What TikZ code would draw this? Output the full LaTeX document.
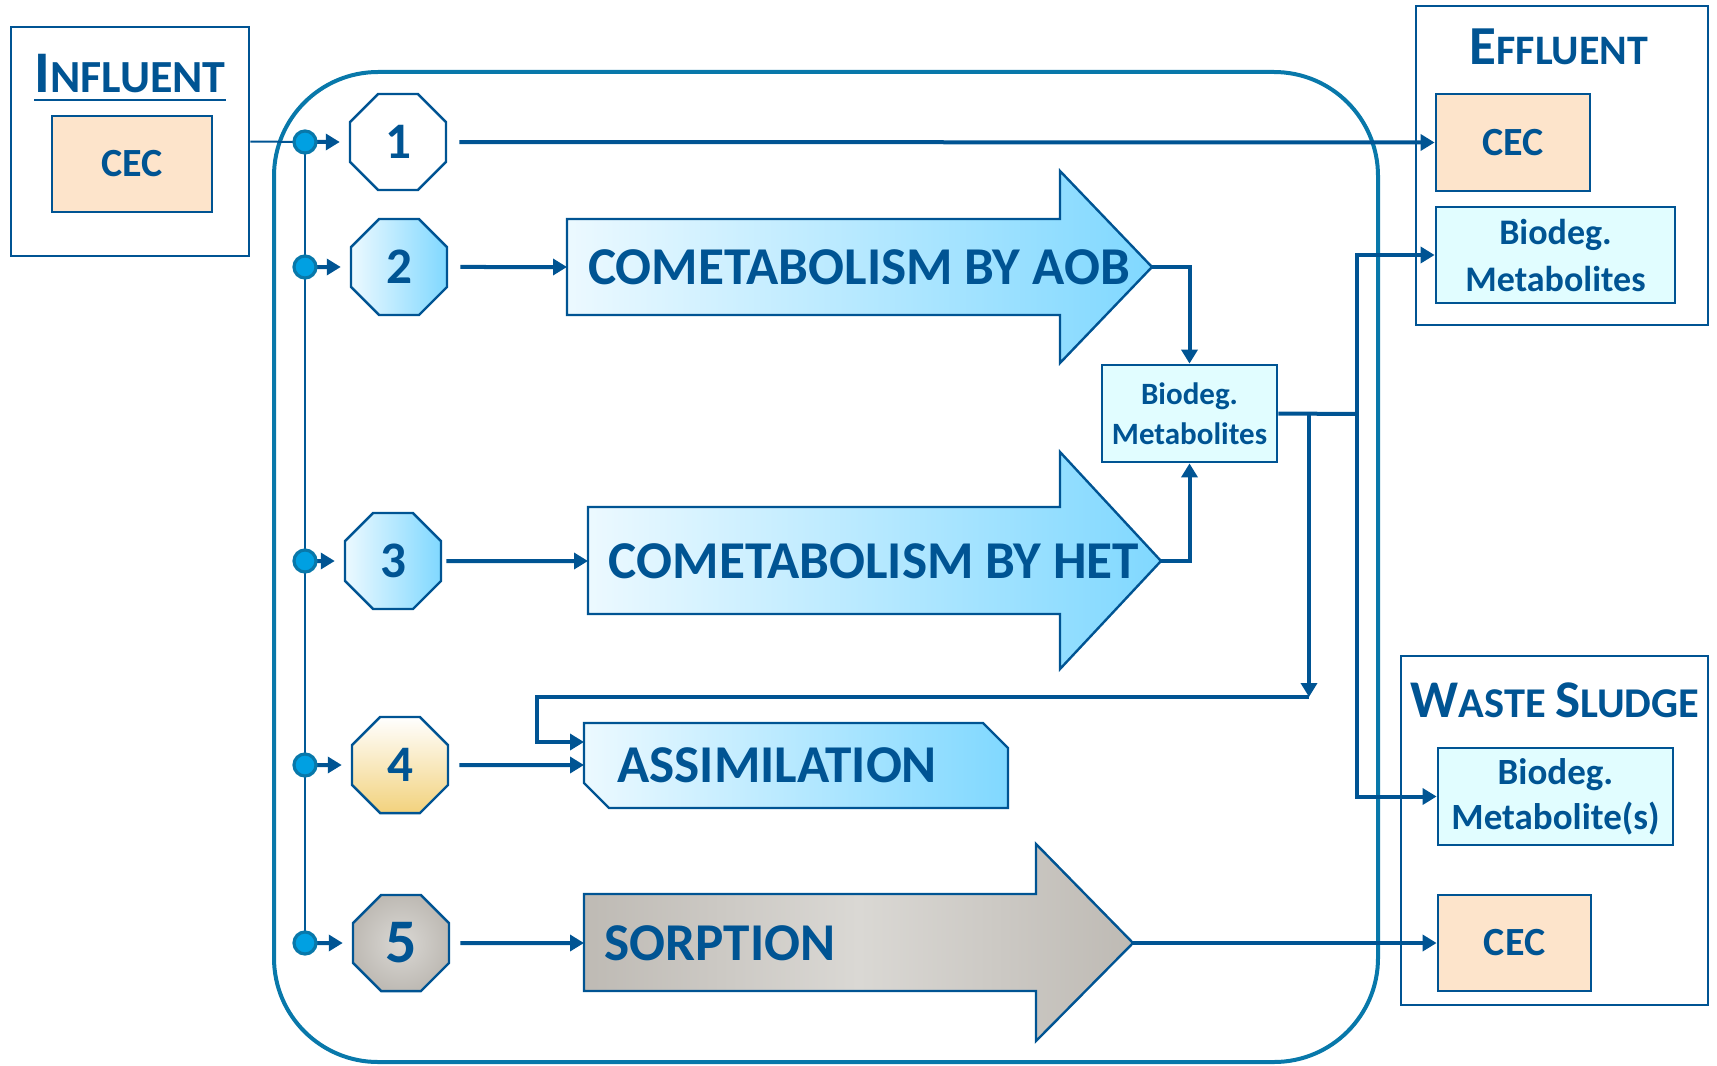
\documentclass[tikz,border=0pt]{standalone}
\usepackage{fontspec}
\setmainfont{Carlito}
\usetikzlibrary{shapes.geometric,arrows.meta,fit}
\definecolor{dkb}{RGB}{0,84,147}
\definecolor{framec}{RGB}{8,120,170}
\definecolor{peach}{RGB}{253,228,203}
\definecolor{lcyan}{RGB}{225,253,255}
\definecolor{sky}{RGB}{128,216,255}
\definecolor{skyl}{RGB}{236,249,255}
\definecolor{gold}{RGB}{242,210,125}
\definecolor{grayd}{RGB}{190,186,180}
\definecolor{grayl}{RGB}{218,216,212}
\definecolor{dotf}{RGB}{0,160,226}
\begin{document}
\begin{tikzpicture}[x=0.5pt,y=-0.5pt,
  ctn/.style={draw=dkb, line width=1.3pt, inner sep=0pt},
  cec/.style={draw=dkb, line width=1.4pt, fill=peach, inner sep=0pt, text=dkb, font=\bfseries\fontsize{20}{22}\selectfont},
  bio/.style={draw=dkb, line width=1.4pt, fill=lcyan, inner sep=0pt, text=dkb, align=center},
  ttl/.style={inner sep=0pt, text=dkb, font=\bfseries},
  oct/.style={regular polygon, regular polygon sides=8, minimum size=52pt, inner sep=0pt, draw=dkb, line width=1.2pt, text=dkb, font=\bfseries\fontsize{25.6}{28}\selectfont},
  big/.style={inner sep=0pt, text=dkb, font=\bfseries\fontsize{26.6}{30}\selectfont},
  proc/.style={draw=dkb, line width=1.2pt},
  conn/.style={draw=dkb, line width=2pt},
  arr/.style={conn, -{Triangle[length=7pt,width=8pt]}},
  bus/.style={draw=dkb!85!framec, line width=1.2pt},
  dot/.style={circle, fill=dotf, draw=framec, line width=1.6pt, minimum size=11pt, inner sep=0pt}
]
\useasboundingbox (0,0) rectangle (1717,1065);
% big frame
\draw[framec, line width=2pt, rounded corners=52pt] (274,72) rectangle (1378,1062);

% influent
\node[ctn, fit={(11,27) (249,256)}] (inf) {};
\node[ttl, anchor=base] (inft) at (130,93) {{\fontsize{29.5}{30}\selectfont I}{\fontsize{23}{24}\selectfont NFLUENT}};
\draw[dkb, line width=1pt] ([yshift=-3.5pt]inft.base west) -- ([yshift=-3.5pt]inft.base east);
\node[cec, minimum width=80pt, minimum height=48pt] (icec) at (132,164) {CEC};

% effluent
\node[ctn, fit={(1416,6) (1708,325)}] (eff) {};
\node[ttl, anchor=base] (efft) at (1559,65) {{\fontsize{27.5}{28}\selectfont E}{\fontsize{21}{22}\selectfont FFLUENT}};
\node[cec, minimum width=77pt, minimum height=48.5pt] (ecec) at (1513,142.5) {CEC};
\node[bio, minimum width=119.5pt, minimum height=48pt, font=\bfseries\fontsize{18}{23.5}\selectfont] (ebio) at (1555.5,255) {Biodeg.\\Metabolites};

% waste sludge
\node[ctn, fit={(1401,656) (1708,1005)}] (ws) {};
\node[ttl, anchor=base] (wst) at (1555,717) {{\fontsize{26.5}{28}\selectfont W}{\fontsize{21.2}{24}\selectfont ASTE }{\fontsize{26.5}{28}\selectfont S}{\fontsize{21.2}{24}\selectfont LUDGE}};
\node[bio, minimum width=117.5pt, minimum height=48.5pt, font=\bfseries\fontsize{18.5}{22.5}\selectfont] (wbio) at (1555.5,796.5) {Biodeg.\\Metabolite(s)};
\node[cec, minimum width=76.5pt, minimum height=48pt] (wcec) at (1514.5,943) {CEC};

% middle metabolites
\node[bio, minimum width=87.5pt, minimum height=48.5pt, font=\bfseries\fontsize{15.5}{20}\selectfont] (mb) at (1189.5,413.5) {Biodeg.\\Metabolites};

% octagons
\node[oct, fill=white] (o1) at (398,142) {1};
\node[oct, left color=skyl, right color=sky] (o2) at (399,267) {2};
\node[oct, left color=skyl, right color=sky] (o3) at (393,561) {3};
\node[oct, top color=white, bottom color=gold] (o4) at (400,765) {4};
\node[oct, inner color=grayl, outer color=grayd, font=\bfseries\fontsize{31}{33}\selectfont] (o5) at (401,943) {5};

% process shapes
\shadedraw[proc, left color=skyl, right color=sky] (567,219) -- (1060,219) -- (1060,171) -- (1152,267) -- (1060,363) -- (1060,315) -- (567,315) -- cycle;
\coordinate (aobL) at (567,267);
\coordinate (aobT) at (1152,267);
\node[big] (aob) at (859,267) {COMETABOLISM BY AOB};

\shadedraw[proc, left color=skyl, right color=sky] (588,507) -- (1060,507) -- (1060,452) -- (1161,561) -- (1060,669) -- (1060,614) -- (588,614) -- cycle;
\coordinate (hetL) at (588,561);
\coordinate (hetT) at (1161,561);
\node[big] (het) at (874,561) {COMETABOLISM BY HET};

\shadedraw[proc, left color=skyl, right color=sky] (584,723) -- (983,723) -- (1008,748) -- (1008,808) -- (609,808) -- (584,783) -- cycle;
\coordinate (asmL) at (584,765);
\coordinate (asmL2) at (584,742);
\node[big, anchor=west] (asm) at (617,765) {ASSIMILATION};

\shadedraw[proc, left color=grayd, right color=grayd, middle color=grayl] (584,894) -- (1036,894) -- (1036,844) -- (1133,943) -- (1036,1041) -- (1036,991) -- (584,991) -- cycle;
\coordinate (sorL) at (584,943);
\coordinate (sorT) at (1133,943);
\node[big, anchor=west] (sor) at (604,943) {SORPTION};

% connectors
\draw[arr, shorten <=6pt] (o1.east) -- (ecec.west);
\draw[arr, shorten <=6pt] (o2.east) -- (aobL);
\draw[arr, shorten <=2pt] (o3.east) -- (hetL);
\draw[arr, shorten <=5pt] (o4.east) -- (asmL);
\draw[arr, shorten <=5pt] (o5.east) -- (sorL);
\draw[arr] (aobT) -| (mb.north);
\draw[arr] (hetT) -| (mb.south);
\coordinate (j1) at (1357,414);
\coordinate (j2) at (1309,414);
\coordinate (j3) at (1309,697);
\coordinate (j4) at (537,697);
\draw[conn] (mb.east) -- (j1);
\draw[arr] (j1) |- (ebio.west);
\draw[arr] (j1) |- (wbio.west);
\draw[arr] (j2) -- (j3);
\draw[arr] (j3) -- (j4) |- (asmL2);
\draw[arr] (sorT) -- (wcec.west);

% distribution bus
\coordinate (d1) at (305,142);
\coordinate (d2) at (305,267);
\coordinate (d3) at (305,561);
\coordinate (d4) at (305,765);
\coordinate (d5) at (305,943);
\draw[dkb, line width=1pt] (inf.east) -- (d1);
\draw[bus] (d1) -- (d5);
\foreach \i in {1,...,5}{
  \draw[arr, shorten >=4.5pt] (d\i) -- (o\i);
}
\foreach \i in {1,...,5}{
  \node[dot] (dot\i) at (d\i) {};
}
\end{tikzpicture}
\end{document}
